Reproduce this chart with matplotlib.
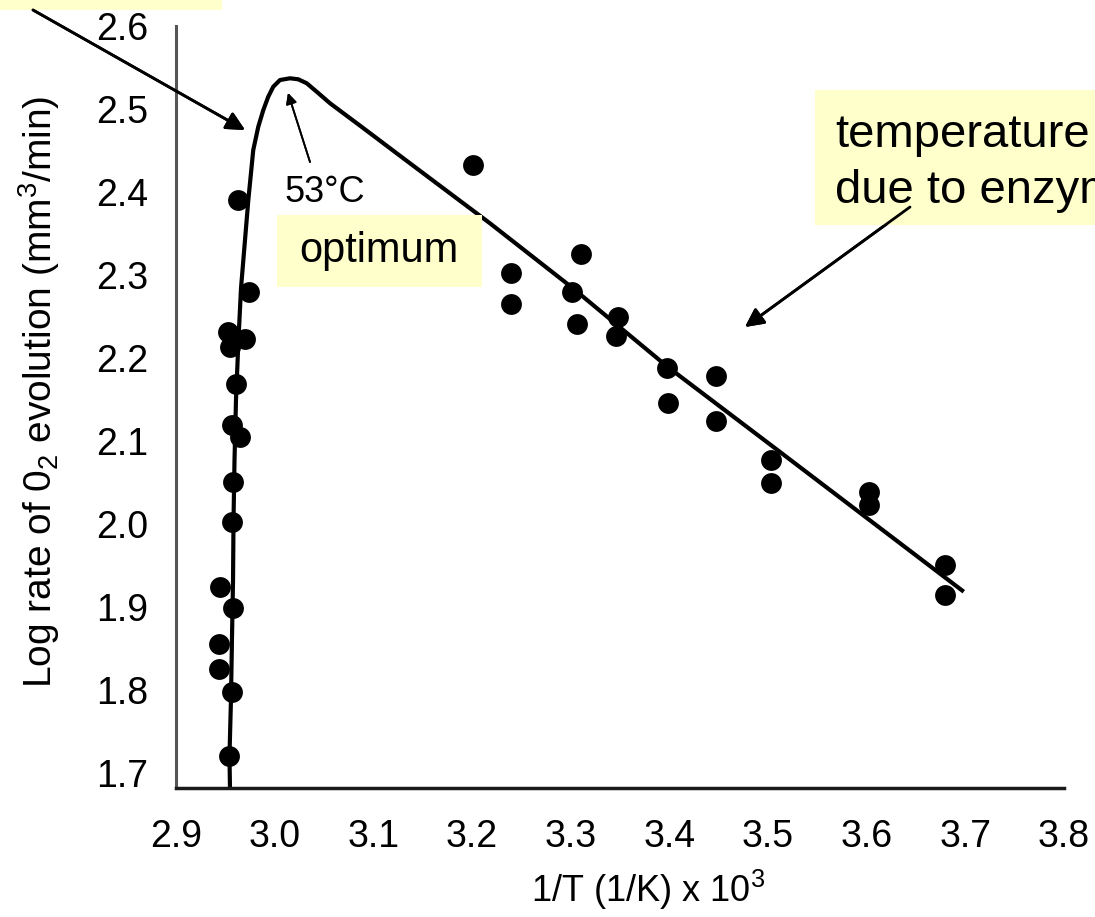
import matplotlib
matplotlib.use('Agg')
from matplotlib import pyplot as plt
from matplotlib.patches import Rectangle

plt.rcParams['font.family'] = ['Liberation Sans', 'DejaVu Sans']
plt.rcParams['mathtext.fontset'] = 'custom'
plt.rcParams['mathtext.rm'] = 'Liberation Sans'
plt.rcParams['mathtext.it'] = 'Liberation Sans:italic'
plt.rcParams['mathtext.bf'] = 'Liberation Sans:bold'

# measured points, 1/T x 10^3 and log rate
pts_x = [2.9631, 2.9743, 2.9527, 2.9699, 2.9547, 2.9605, 2.9565, 2.9649,
         2.9581, 2.9565, 2.9446, 2.9581, 2.9436, 2.9436, 2.9565, 2.9540,
         3.2008, 3.2399, 3.2399, 3.3100, 3.3014, 3.3064, 3.3477, 3.3455,
         3.3981, 3.3988, 3.4468, 3.4468, 3.5029, 3.5029, 3.6024, 3.6024,
         3.6790, 3.6797]
pts_y = [2.3904, 2.2799, 2.2313, 2.2229, 2.2133, 2.1687, 2.1193, 2.1052,
         2.0510, 2.0028, 1.9241, 1.8988, 1.8554, 1.8253, 1.7980, 1.7205,
         2.4325, 2.3020, 2.2651, 2.3253, 2.2799, 2.2410, 2.2490, 2.2265,
         2.1876, 2.1461, 2.1783, 2.1245, 2.0771, 2.0498, 2.0389, 2.0229,
         1.9506, 1.9145]

# fitted curve
curve_x = [2.9547, 2.9542, 2.9557, 2.9567, 2.9578, 2.9583, 2.9593, 2.9608,
           2.9633, 2.9659, 2.9733, 2.9783, 2.9834, 2.9885, 2.9935, 2.9986,
           3.0054, 3.0155, 3.0239, 3.0325, 3.0426, 3.0561, 3.0898, 3.1237,
           3.1574, 3.2182, 3.3003, 3.3981, 3.5118, 3.6984]
curve_y = [1.6819, 1.7205, 1.7880, 1.8602, 1.9325, 2.0048, 2.0771, 2.1494,
           2.2217, 2.2843, 2.3904, 2.4506, 2.4787, 2.4988, 2.5148, 2.5269,
           2.5349, 2.5370, 2.5358, 2.5310, 2.5208, 2.5069, 2.4770, 2.4466,
           2.4165, 2.3623, 2.2859, 2.1895, 2.0871, 1.9184]

xticks = [2.9, 3.0, 3.1, 3.2, 3.3, 3.4, 3.5, 3.6, 3.7, 3.8]
yticks = [1.7, 1.8, 1.9, 2.0, 2.1, 2.2, 2.3, 2.4, 2.5, 2.6]

W, H = 1095, 917
def fx(px):
    return px / W
def fy(py):
    return 1 - py / H

fig = plt.figure(figsize=(10.95, 9.17), dpi=100)
ax = fig.add_axes([fx(176), fy(788), (1064 - 176) / W, (788 - 26) / H])

ax.plot(curve_x, curve_y, color='black', lw=3, solid_capstyle='butt',
        solid_joinstyle='round', zorder=2)
ax.scatter(pts_x, pts_y, s=225, color='black', zorder=3, linewidths=0)

ax.set_xlim(2.9, 3.8)
ax.set_ylim(1.6819, 2.6)
ax.set_xticks(xticks)
ax.set_xticklabels(['%.1f' % v for v in xticks])
ax.set_yticks(yticks)
ax.set_yticklabels(['%.1f' % v for v in yticks])
ax.tick_params(length=0, labelsize=27)
ax.tick_params(axis='x', pad=22)
ax.tick_params(axis='y', pad=20)
for s in ['top', 'right']:
    ax.spines[s].set_visible(False)
ax.spines['left'].set_color('#555555')
ax.spines['left'].set_linewidth(2.2)
ax.spines['bottom'].set_color('#1a1a1a')
ax.spines['bottom'].set_linewidth(2.5)

ax.set_ylabel(r'Log rate of 0$_2$ evolution (mm$^3$/min)', fontsize=28)
ax.yaxis.set_label_coords(-0.128, 0.52)
ax.set_xlabel(r'1/T (1/K) x 10$^3$', fontsize=26)
ax.xaxis.set_label_coords(0.532, -0.105)

yellow = '#ffffcc'

# boxes
fig.add_artist(Rectangle((0, fy(10)), fx(222), 10 / H, transform=fig.transFigure,
                         facecolor=yellow, edgecolor='none', zorder=0))
fig.add_artist(Rectangle((fx(276.7), fy(286.7)), 205 / W, 71.7 / H,
                         transform=fig.transFigure, facecolor=yellow,
                         edgecolor='none', zorder=1))
fig.add_artist(Rectangle((fx(815), fy(225)), 1 - fx(815), 135 / H,
                         transform=fig.transFigure, facecolor=yellow,
                         edgecolor='none', zorder=1))

fig.text(fx(379), fy(251), 'optimum', fontsize=30, ha='center', va='center', zorder=4)
fig.text(fx(835), fy(147), 'temperature', fontsize=34, ha='left', va='baseline', zorder=4)
fig.text(fx(835), fy(203), 'due to enzym', fontsize=34, ha='left', va='baseline', zorder=4)
fig.text(fx(325), fy(192), '53°C', fontsize=26, ha='center', va='center', zorder=4)

# arrows
fig.add_artist(plt.annotate('', xy=(fx(245), fy(130)), xytext=(fx(33), fy(10)),
                            xycoords='figure fraction', textcoords='figure fraction',
                            arrowprops=dict(arrowstyle='-|>', color='black', lw=2,
                                            mutation_scale=28, shrinkA=0, shrinkB=0)))
fig.add_artist(plt.annotate('', xy=(fx(745), fy(327)), xytext=(fx(910), fy(207)),
                            xycoords='figure fraction', textcoords='figure fraction',
                            arrowprops=dict(arrowstyle='-|>', color='black', lw=2,
                                            mutation_scale=28, shrinkA=0, shrinkB=0)))
fig.add_artist(plt.annotate('', xy=(fx(288), fy(93)), xytext=(fx(310), fy(162)),
                            xycoords='figure fraction', textcoords='figure fraction',
                            arrowprops=dict(arrowstyle='-|>', color='black', lw=1.3,
                                            mutation_scale=16, shrinkA=0, shrinkB=0)))

fig.savefig('out.png', dpi=100)
